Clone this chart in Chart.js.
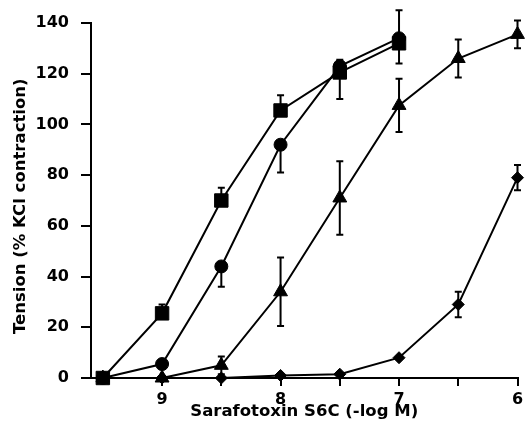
<!DOCTYPE html>
<html>
<head>
<meta charset="utf-8">
<script src="https://cdn.jsdelivr.net/npm/chart.js@4.4.1/dist/chart.umd.min.js"></script>
<style>
  html, body { margin: 0; padding: 0; background: #fff; }
</style>
</head>
<body>
<canvas id="chart" width="528" height="429"></canvas>
<script>
// doses (-log M), left to right
const doses = [9.5, 9, 8.5, 8, 7.5, 7, 6.5, 6];
const xTicks = [9, 8.5, 8, 7.5, 7, 6.5, 6];
const xTickLabels = ['9', '', '8', '', '7', '', '6'];
const yTicks = [0, 20, 40, 60, 80, 100, 120, 140];

// tension (% KCl contraction)
const squareVals = [0, 25.5, 70, 105.5, 120.5, 132];
const squareErrHi = [0, 3.5, 5, 6, 5, 0];
const squareErrLo = [0, 0, 0, 0, 0, 8];

const circleVals = [0, 5.5, 44, 92, 123, 134];
const circleErrHi = [0, 0, 0, 0, 0, 11];
const circleErrLo = [0, 0, 8, 11, 13, 0];

const triangleVals = [0, 0, 5, 34, 71, 107.5, 126, 135.5];
const triangleErr = [0, 0, 3.5, 13.5, 14.5, 10.5, 7.5, 5.5];

const diamondVals = [0, 0, 0, 1, 1.5, 8, 29, 79];
const diamondErr = [0, 0, 0, 0, 0, 0, 5, 5];

const FONT = '"DejaVu Sans", "Liberation Sans", Arial, sans-serif';

function series(vals, style, radius, errHi, errLo) {
    return {
        data: vals.map((v, i) => ({ x: doses[i], y: v })),
        errHi: errHi,
        errLo: errLo,
        pointStyle: style,
        pointRadius: radius,
        pointBackgroundColor: '#000',
        pointBorderColor: '#000',
        pointBorderWidth: 1,
        borderColor: '#000',
        borderWidth: 2,
        tension: 0,
        clip: false
    };
}

// error bars with small caps
const errorBars = {
    id: 'errorBars',
    afterDatasetsDraw(chart) {
        const ctx = chart.ctx;
        const xs = chart.scales.x;
        const ys = chart.scales.y;
        ctx.save();
        ctx.strokeStyle = '#000';
        ctx.lineWidth = 2;
        chart.data.datasets.forEach(ds => {
            ds.data.forEach((p, i) => {
                const hi = ds.errHi[i] || 0;
                const lo = ds.errLo[i] || 0;
                if (!hi && !lo) return;
                const x = xs.getPixelForValue(p.x);
                const yTop = ys.getPixelForValue(p.y + hi);
                const yBot = ys.getPixelForValue(p.y - lo);
                ctx.beginPath();
                ctx.moveTo(x, yTop);
                ctx.lineTo(x, yBot);
                if (hi) { ctx.moveTo(x - 3.5, yTop); ctx.lineTo(x + 3.5, yTop); }
                if (lo) { ctx.moveTo(x - 3.5, yBot); ctx.lineTo(x + 3.5, yBot); }
                ctx.stroke();
            });
        });
        ctx.restore();
    }
};

new Chart(document.getElementById('chart'), {
    type: 'line',
    data: {
        datasets: [
            series(squareVals, 'rect', 9.5, squareErrHi, squareErrLo),
            series(circleVals, 'circle', 6.5, circleErrHi, circleErrLo),
            series(triangleVals, 'triangle', 8, triangleErr, triangleErr),
            series(diamondVals, 'rectRot', 6, diamondErr, diamondErr)
        ]
    },
    options: {
        responsive: false,
        devicePixelRatio: 1,
        animation: false,
        layout: { padding: { top: 23, right: 3, left: 0, bottom: 0 } },
        plugins: { legend: { display: false }, tooltip: { enabled: false } },
        scales: {
            x: {
                type: 'linear',
                reverse: true,
                min: 6,
                max: 9.6,
                afterBuildTicks: s => { s.ticks = xTicks.map(v => ({ value: v })); },
                afterFit: s => { s.height = 51; s.paddingLeft = 0; s.paddingRight = 0; },
                ticks: {
                    autoSkip: false,
                    maxRotation: 0,
                    padding: 4,
                    color: '#000',
                    font: { family: FONT, size: 16, weight: 'bold' },
                    callback: (v, i) => xTickLabels[i]
                },
                grid: { drawOnChartArea: false, drawTicks: true, tickLength: 8, color: '#000', lineWidth: 2 },
                border: { display: true, color: '#000', width: 2 },
                title: {
                    display: true,
                    text: 'Sarafotoxin S6C (-log M)',
                    color: '#000',
                    font: { family: FONT, size: 16.5, weight: 'bold' },
                    padding: { top: 0, bottom: 7 }
                }
            },
            y: {
                min: 0,
                max: 140,
                afterBuildTicks: s => { s.ticks = yTicks.map(v => ({ value: v })); },
                afterFit: s => { s.width = 91; s.paddingTop = 0; s.paddingBottom = 0; },
                ticks: {
                    padding: 12,
                    color: '#000',
                    font: { family: FONT, size: 16, weight: 'bold' }
                },
                grid: { drawOnChartArea: false, drawTicks: true, tickLength: 10, color: '#000', lineWidth: 2 },
                border: { display: true, color: '#000', width: 2 },
                title: {
                    display: true,
                    // trailing spaces nudge the rotated title down a little
                    text: 'Tension (% KCl contraction)  ',
                    color: '#000',
                    font: { family: FONT, size: 16.5, weight: 'bold' },
                    padding: { top: 11, bottom: 0 }
                }
            }
        }
    },
    plugins: [errorBars]
});
</script>
</body>
</html>
